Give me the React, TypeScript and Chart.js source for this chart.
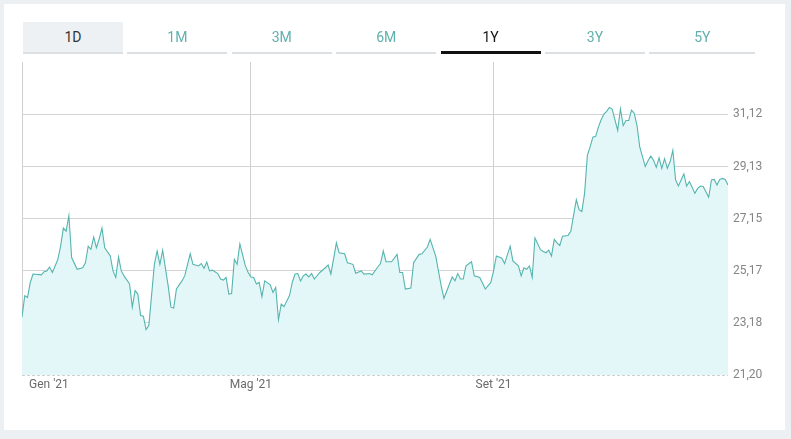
import React, { useEffect, useRef } from "react";
import { Chart, registerables } from "chart.js";

Chart.register(...registerables);

// Trading-day index (0 = first session of Jan 2021) and closing price
const days = [
  0, 1, 2, 3, 4, 7, 8, 9, 10, 11, 12, 13, 14, 15, 16, 17, 18, 20, 22, 23,
  24, 25, 26, 27, 28, 29, 30, 32, 33, 34, 35, 36, 37, 39, 40, 41, 42, 43, 44, 45,
  46, 48, 49, 50, 51, 53, 54, 55, 56, 58, 59, 61, 62, 64, 65, 66, 67, 68, 69, 71,
  72, 73, 74, 75, 76, 77, 78, 79, 81, 82, 83, 84, 85, 86, 87, 88, 90, 91, 92, 93,
  94, 95, 97, 98, 99, 100, 101, 102, 103, 104, 105, 106, 108, 110, 111, 112, 114, 115, 117, 118,
  120, 121, 123, 124, 126, 127, 129, 130, 131, 132, 134, 136, 137, 138, 139, 141, 142, 144, 145, 147,
  148, 150, 152, 153, 155, 156, 157, 158, 159, 160, 161, 163, 164, 166, 168, 170, 171, 172, 174, 175,
  177, 178, 180, 181, 182, 183, 184, 185, 186, 188, 189, 190, 191, 192, 193, 194, 195, 196, 198, 199,
  201, 202, 203, 204, 205, 206, 207, 208, 209, 210, 211, 212, 213, 214, 216, 217, 218, 219, 220, 221,
  222, 223, 224, 226, 227, 228, 229, 230, 231, 232, 233, 234, 235, 236, 237, 238, 239, 240, 241, 242,
  243, 244, 245, 246, 247, 249, 250, 251, 252, 253, 254, 255, 256,
];

const prices = [
  23.40, 24.22, 24.15, 24.72, 25.04, 25.01, 25.13, 25.16, 25.31, 25.10, 25.35, 25.60, 26.10, 26.79, 26.67, 27.26, 25.67, 25.22, 25.28, 25.47,
  26.10, 25.98, 26.45, 26.04, 26.38, 26.79, 26.04, 25.73, 25.16, 24.91, 25.69, 25.16, 24.97, 24.66, 23.78, 24.41, 24.28, 23.46, 23.44, 22.93,
  23.09, 25.41, 25.92, 25.41, 25.95, 24.59, 23.78, 23.75, 24.47, 24.78, 24.97, 25.81, 25.41, 25.35, 25.44, 25.26, 25.50, 25.16, 25.19, 25.06,
  24.85, 24.81, 24.91, 24.28, 24.30, 25.60, 25.41, 26.19, 25.35, 25.10, 24.93, 24.91, 24.66, 24.72, 24.18, 24.78, 24.63, 24.34, 24.53, 23.30,
  23.90, 23.80, 24.22, 24.72, 25.04, 25.06, 24.78, 24.97, 25.04, 24.93, 25.06, 24.85, 25.10, 25.28, 25.38, 25.04, 26.23, 25.85, 25.81, 25.47,
  25.41, 25.07, 25.16, 25.04, 25.06, 25.01, 25.31, 25.44, 25.92, 25.51, 25.51, 25.79, 25.10, 25.10, 24.47, 24.51, 25.47, 25.79, 25.81, 26.07,
  26.36, 25.73, 24.59, 24.12, 24.66, 24.93, 24.78, 25.06, 24.85, 24.85, 25.35, 25.51, 24.97, 24.91, 24.47, 24.72, 25.16, 25.73, 25.64, 25.44,
  26.10, 25.54, 25.35, 24.97, 25.28, 25.22, 25.35, 24.91, 26.42, 25.97, 25.90, 25.85, 25.95, 25.73, 26.36, 26.23, 26.13, 26.48, 26.51, 26.67,
  27.87, 27.49, 27.42, 28.11, 29.56, 29.88, 30.25, 30.28, 30.63, 30.91, 31.13, 31.23, 31.38, 31.32, 30.51, 31.32, 30.69, 30.88, 30.88, 31.28,
  31.16, 30.69, 29.88, 29.13, 29.35, 29.53, 29.37, 29.10, 29.46, 29.06, 29.43, 29.06, 29.31, 29.75, 28.62, 28.39, 28.62, 28.85, 28.39, 28.56,
  28.34, 28.11, 28.30, 28.39, 28.37, 27.96, 28.62, 28.64, 28.43, 28.64, 28.68, 28.64, 28.43,
];

const xTickDays = [0, 83, 171];
const xTickLabels = ["Gen '21", "Mag '21", "Set '21"];

const yTickValues = [21.2, 23.18, 25.17, 27.15, 29.13, 31.12];
const yTickLabels = ["21,20", "23,18", "25,17", "27,15", "29,13", "31,12"];
const yMin = 21.2;
const yMax = 33.1;
const xMax = 256;

const tabs = ["1D", "1M", "3M", "6M", "1Y", "3Y", "5Y"];

const FONT = "Roboto, 'Noto Sans', sans-serif";

export default function App() {
  const canvasRef = useRef<HTMLCanvasElement | null>(null);

  useEffect(() => {
    if (!canvasRef.current) return;
    const xLabelPlugin = {
      id: "xLabelPlugin",
      afterDraw(chart: any) {
        const { ctx, chartArea } = chart;
        const x = chart.scales.x;
        ctx.save();
        ctx.strokeStyle = "#d0d0d0";
        ctx.lineWidth = 1;
        ctx.setLineDash([3, 2]);
        ctx.beginPath();
        ctx.moveTo(chartArea.left, Math.round(chartArea.bottom) + 0.5);
        ctx.lineTo(chartArea.right, Math.round(chartArea.bottom) + 0.5);
        ctx.stroke();
        ctx.setLineDash([]);
        ctx.font = `12px ${FONT}`;
        ctx.fillStyle = "#6a6a6a";
        ctx.textBaseline = "middle";
        ctx.textAlign = "left";
        xTickDays.forEach((d, i) => {
          const label = xTickLabels[i];
          const px = x.getPixelForValue(d);
          const w = ctx.measureText(label).width;
          let left = px - w / 2;
          if (left < chartArea.left + 7) left = chartArea.left + 7;
          ctx.fillText(label, left, chartArea.bottom + 10);
        });
        ctx.restore();
      },
    };

    const chart = new Chart(canvasRef.current, {
      type: "line",
      data: {
        datasets: [
          {
            data: days.map((d, i) => ({ x: d, y: prices[i] })),
            borderColor: "#55b5ae",
            borderWidth: 1.1,
            backgroundColor: "#e3f6f8",
            fill: "start",
            pointRadius: 0,
            tension: 0,
          },
        ],
      },
      options: {
        responsive: false,
        animation: false,
        layout: { padding: { top: 10, left: 22, right: 0, bottom: 0 } },
        plugins: { legend: { display: false }, tooltip: { enabled: false } },
        scales: {
          x: {
            type: "linear",
            min: 0,
            max: xMax,
            afterBuildTicks: (scale: any) => {
              scale.ticks = xTickDays.map((v) => ({ value: v }));
            },
            afterFit: (scale: any) => {
              scale.height = 20;
            },
            ticks: { display: false },
            grid: { color: "#cfcfcf", drawTicks: false, lineWidth: 1 },
            border: { display: false },
          },
          y: {
            type: "linear",
            position: "right",
            min: yMin,
            max: yMax,
            afterBuildTicks: (scale: any) => {
              scale.ticks = yTickValues.map((v) => ({ value: v }));
            },
            afterFit: (scale: any) => {
              scale.width = 63;
            },
            ticks: {
              padding: 5,
              color: "#858585",
              font: { family: FONT, size: 12 },
              callback: (_v: any, i: number) => yTickLabels[i],
            },
            grid: {
              drawTicks: false,
              color: (ctx: any) =>
                ctx.tick && Math.abs(ctx.tick.value - yMin) < 1e-6
                  ? "rgba(0,0,0,0)"
                  : "#d3d3d3",
            },
            border: { display: false },
          },
        },
      },
      plugins: [xLabelPlugin],
    });
    return () => chart.destroy();
  }, []);

  return (
    <div
      style={{
        position: "fixed",
        left: 0,
        top: 0,
        width: 791,
        height: 439,
        background: "#edf0f3",
        overflow: "hidden",
        fontFamily: FONT,
      }}
    >
      <div
        style={{
          position: "absolute",
          left: 4,
          top: 4,
          width: 781,
          height: 426,
          background: "#ffffff",
        }}
      />
      <canvas
        ref={canvasRef}
        width={791}
        height={345}
        style={{ position: "absolute", left: 0, top: 50, width: 791, height: 345 }}
      />
      {tabs.map((t, i) => {
        const active = t === "1Y";
        const first = t === "1D";
        const last = i === tabs.length - 1;
        return (
          <div
            key={t}
            style={{
              position: "absolute",
              left: 23 + i * 104.4,
              top: 22,
              width: last ? 106 : 100,
              height: 32,
              boxSizing: "border-box",
              display: "flex",
              alignItems: "center",
              justifyContent: "center",
              fontSize: 14,
              color: active ? "#111" : first ? "#333" : "#5fb0ad",
              background: first ? "#eef1f4" : "transparent",
              borderBottom: active ? "3px solid #111" : "2px solid #dde0e3",
              paddingTop: active ? 1 : 0,
            }}
          >
            {t}
          </div>
        );
      })}
    </div>
  );
}
